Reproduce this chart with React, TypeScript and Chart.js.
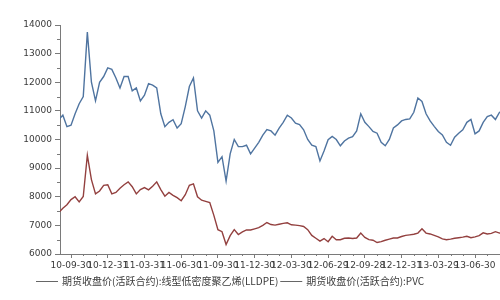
import React, { useEffect, useRef } from "react";
import { Chart, registerables } from "chart.js";

Chart.register(...registerables);

// Quarter-end tick labels (x = quarter index)
const tickLabels = [
  "10-09-30", "10-12-31", "11-03-31", "11-06-30", "11-09-30", "11-12-30",
  "12-03-30", "12-06-29", "12-09-28", "12-12-31", "13-03-29", "13-06-30",
];

// Samples every 1/9 quarter (~10 days), first sample 3/9 quarter before 10-09-30
const sampleStart = -3 / 9;
const sampleStep = 1 / 9;

const lldpe = [
  10700, 10850, 10450, 10500, 10900, 11250, 11500, 13750, 12000, 11350,
  12000, 12200, 12500, 12450, 12150, 11800, 12200, 12200, 11700, 11800,
  11350, 11550, 11950, 11900, 11800, 10900, 10450, 10600, 10690, 10400,
  10550, 11150, 11850, 12150, 11000, 10750, 11000, 10850, 10300, 9200,
  9400, 8550, 9500, 10000, 9750, 9750, 9800, 9500, 9700, 9900,
  10150, 10350, 10300, 10150, 10400, 10600, 10850, 10750, 10570, 10520,
  10340, 10000, 9800, 9750, 9250, 9600, 9990, 10110, 10000, 9780,
  9950, 10050, 10100, 10300, 10900, 10600, 10450, 10280, 10220, 9900,
  9780, 10000, 10400, 10510, 10650, 10700, 10720, 10950, 11450, 11330,
  10900, 10650, 10460, 10280, 10160, 9900, 9800, 10080, 10220, 10340,
  10600, 10700, 10200, 10300, 10600, 10800, 10850, 10700, 10950, 11000,
];

const pvc = [
  7450, 7600, 7720, 7900, 8000, 7820, 8010, 9450, 8600, 8100,
  8200, 8400, 8420, 8100, 8150, 8300, 8420, 8520, 8350, 8100,
  8250, 8320, 8240, 8370, 8520, 8250, 8020, 8150, 8050, 7970,
  7860, 8070, 8400, 8450, 8000, 7880, 7840, 7800, 7350, 6850,
  6780, 6330, 6640, 6850, 6680, 6770, 6840, 6840, 6880, 6920,
  7000, 7100, 7030, 7010, 7040, 7070, 7090, 7020, 7010, 6990,
  6960, 6850, 6650, 6550, 6450, 6540, 6430, 6620, 6500, 6500,
  6550, 6560, 6540, 6560, 6730, 6580, 6500, 6480, 6400, 6430,
  6480, 6520, 6560, 6560, 6610, 6650, 6670, 6690, 6730, 6880,
  6730, 6700, 6650, 6600, 6530, 6500, 6520, 6550, 6570, 6590,
  6620, 6570, 6600, 6640, 6740, 6700, 6720, 6780, 6730, 6750,
];

const seriesNames = [
  "期货收盘价(活跃合约):线型低密度聚乙烯(LLDPE)",
  "期货收盘价(活跃合约):PVC",
];

const AXIS = "#7a7a7a";
const TEXT = "#3a3a3a";
const TICK_FONT = { family: "DejaVu Sans", size: 9 };

const extrasPlugin = {
  id: "extras",
  afterDraw(chart: any) {
    const ctx = chart.ctx;
    const x = chart.scales.x;
    const y = chart.scales.y;
    const area = chart.chartArea;
    ctx.save();
    ctx.strokeStyle = AXIS;
    ctx.lineWidth = 1;
    // minor y ticks
    for (let v = 6500; v < 14000; v += 1000) {
      const py = Math.round(y.getPixelForValue(v)) + 0.5;
      ctx.beginPath();
      ctx.moveTo(area.left - 3, py);
      ctx.lineTo(area.left, py);
      ctx.stroke();
    }
    // minor x ticks (months)
    for (let q = 0; q <= 11; q++) {
      for (const m of [1 / 3, 2 / 3]) {
        const val = q + m;
        if (val > x.max) continue;
        const px = Math.round(x.getPixelForValue(val)) + 0.5;
        ctx.beginPath();
        ctx.moveTo(px, area.bottom);
        ctx.lineTo(px, area.bottom + 2);
        ctx.stroke();
      }
    }
    // legend
    const ly = 281;
    ctx.font = '10px "Noto Sans CJK SC"';
    ctx.textBaseline = "middle";
    ctx.fillStyle = TEXT;
    ctx.strokeStyle = "#666";
    let lx = 36;
    seriesNames.forEach((name) => {
      ctx.beginPath();
      ctx.moveTo(lx, ly + 0.5);
      ctx.lineTo(lx + 22, ly + 0.5);
      ctx.stroke();
      ctx.fillText(name, lx + 26, ly);
      lx = lx + 26 + ctx.measureText(name).width + 2;
    });
    ctx.restore();
  },
};

export default function App() {
  const ref = useRef<HTMLCanvasElement | null>(null);
  useEffect(() => {
    if (!ref.current) return;
    const toPts = (arr: number[]) =>
      arr.map((v, i) => ({ x: sampleStart + i * sampleStep, y: v }));
    const chart = new Chart(ref.current, {
      type: "line",
      data: {
        datasets: [
          {
            label: seriesNames[0],
            data: toPts(lldpe),
            borderColor: "#4f74a0",
            borderWidth: 1.4,
            pointRadius: 0,
            tension: 0,
          },
          {
            label: seriesNames[1],
            data: toPts(pvc),
            borderColor: "#93403f",
            borderWidth: 1.4,
            pointRadius: 0,
            tension: 0,
          },
        ],
      },
      options: {
        animation: false,
        responsive: false,
        maintainAspectRatio: false,
        layout: { padding: { top: 25, right: 0, bottom: 0, left: 0 } },
        plugins: { legend: { display: false }, tooltip: { enabled: false } },
        scales: {
          x: {
            type: "linear",
            min: -0.3,
            max: 11.68,
            afterFit: (s: any) => {
              s.height = 46;
            },
            afterBuildTicks: (s: any) => {
              s.ticks = tickLabels.map((_, i) => ({ value: i }));
            },
            grid: {
              drawOnChartArea: false,
              drawTicks: true,
              tickLength: 4,
              color: AXIS,
            },
            border: { display: true, color: AXIS },
            ticks: {
              autoSkip: false,
              maxRotation: 0,
              minRotation: 0,
              padding: 2,
              color: TEXT,
              font: TICK_FONT,
              callback: (v: any) => tickLabels[Math.round(Number(v))] ?? "",
            },
          },
          y: {
            min: 6000,
            max: 14000,
            afterFit: (s: any) => {
              s.width = 60;
            },
            grid: {
              drawOnChartArea: false,
              drawTicks: true,
              tickLength: 5,
              color: AXIS,
            },
            border: { display: true, color: AXIS },
            ticks: {
              stepSize: 1000,
              padding: 3,
              color: TEXT,
              font: TICK_FONT,
              callback: (v: any) => String(v),
            },
          },
        },
      },
      plugins: [extrasPlugin],
    });
    return () => chart.destroy();
  }, []);
  return (
    <div style={{ position: "fixed", left: 0, top: 0, width: 500, height: 300, background: "#fff" }}>
      <canvas ref={ref} width={500} height={300} style={{ display: "block", width: 500, height: 300 }} />
    </div>
  );
}
